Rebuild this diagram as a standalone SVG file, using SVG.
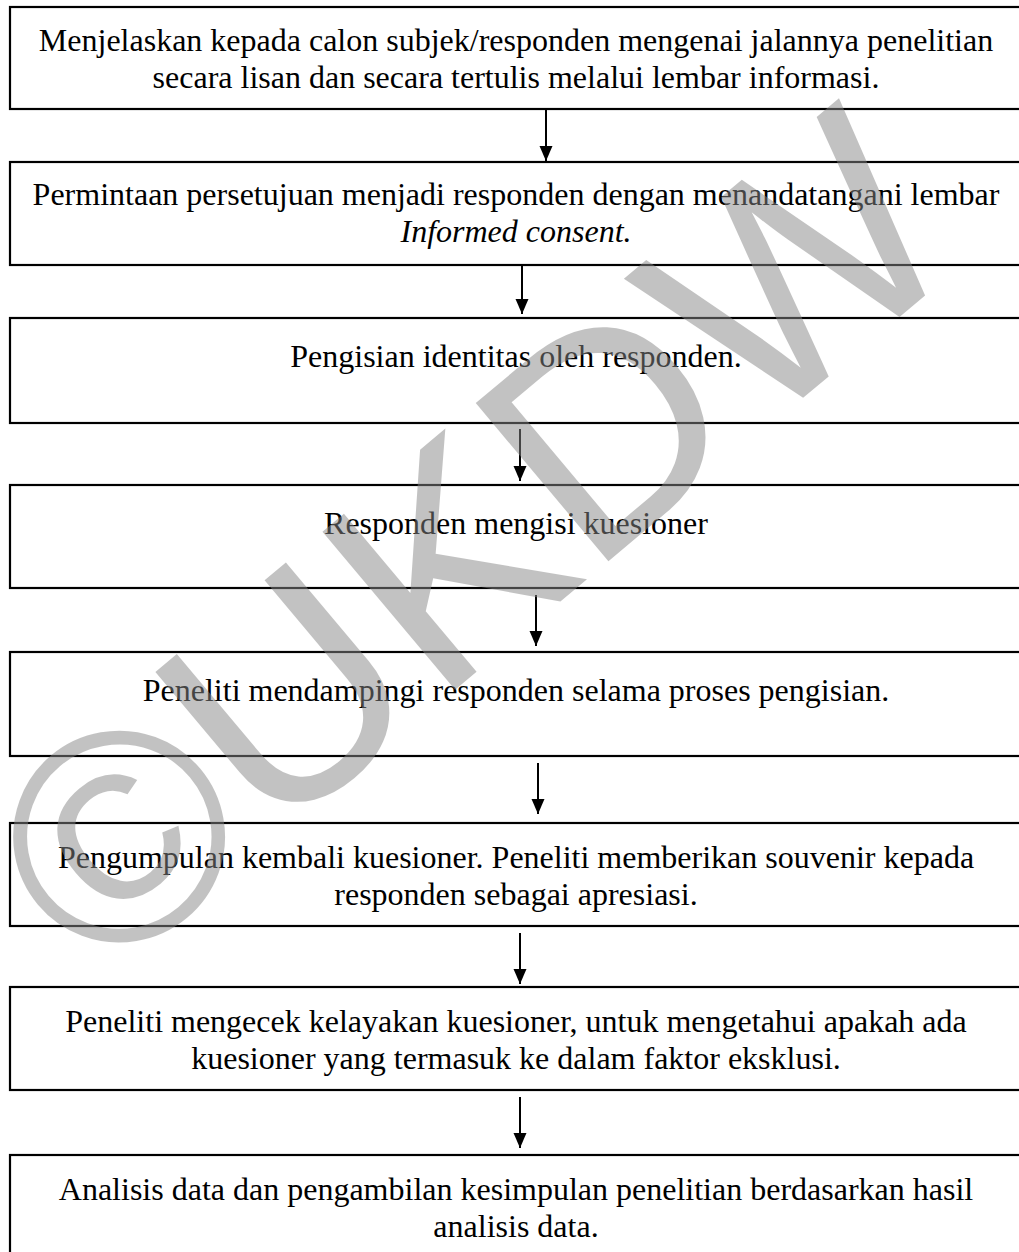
<svg xmlns="http://www.w3.org/2000/svg" width="1019" height="1252" viewBox="0 0 1019 1252">
<style>
.box{fill:#fff;stroke:#000;stroke-width:2.2}
.t{font-family:"Liberation Serif","Times New Roman",serif;font-size:32px;fill:#000;text-anchor:middle}
.it{font-style:italic}
.conn{stroke:#000;stroke-width:2;fill:none;marker-end:url(#ah)}
.wm{font-family:"Liberation Sans",Arial,sans-serif;font-size:300px;fill:#878787;opacity:0.5}
</style>
<defs>
<marker id="ah" markerUnits="userSpaceOnUse" markerWidth="16" markerHeight="14" refX="15" refY="7" orient="auto" overflow="visible">
<path d="M0,0.5 L15,7 L0,13.5 z" fill="#000"/>
</marker>
</defs>
<rect x="0" y="0" width="1019" height="1252" fill="#fff"/>
<g id="n1"><rect class="box" x="10" y="7" width="1030" height="102"/>
<text class="t" x="516" y="51">Menjelaskan kepada calon subjek/responden mengenai jalannya penelitian</text>
<text class="t" x="516" y="88">secara lisan dan secara tertulis melalui lembar informasi.</text></g>
<g id="n2"><rect class="box" x="10" y="162" width="1030" height="103"/>
<text class="t" x="516" y="205">Permintaan persetujuan menjadi responden dengan menandatangani lembar</text>
<text class="t it" x="516" y="242">Informed consent.</text></g>
<g id="n3"><rect class="box" x="10" y="318" width="1030" height="105"/>
<text class="t" x="516" y="367">Pengisian identitas oleh responden.</text></g>
<g id="n4"><rect class="box" x="10" y="485" width="1030" height="103"/>
<text class="t" x="516" y="534">Responden mengisi kuesioner</text></g>
<g id="n5"><rect class="box" x="10" y="652" width="1030" height="104"/>
<text class="t" x="516" y="701">Peneliti mendampingi responden selama proses pengisian.</text></g>
<g id="n6"><rect class="box" x="10" y="823" width="1030" height="103"/>
<text class="t" x="516" y="868">Pengumpulan kembali kuesioner. Peneliti memberikan souvenir kepada</text>
<text class="t" x="516" y="905">responden sebagai apresiasi.</text></g>
<g id="n7"><rect class="box" x="10" y="987" width="1030" height="103"/>
<text class="t" x="516" y="1032">Peneliti mengecek kelayakan kuesioner, untuk mengetahui apakah ada</text>
<text class="t" x="516" y="1069">kuesioner yang termasuk ke dalam faktor eksklusi.</text></g>
<g id="n8"><rect class="box" x="10" y="1155" width="1030" height="120"/>
<text class="t" x="516" y="1200">Analisis data dan pengambilan kesimpulan penelitian berdasarkan hasil</text>
<text class="t" x="516" y="1237">analisis data.</text></g>
<g id="connectors">
<line class="conn" x1="546" y1="110" x2="546" y2="161"/>
<line class="conn" x1="522" y1="266" x2="522" y2="314"/>
<line class="conn" x1="520" y1="429" x2="520" y2="481"/>
<line class="conn" x1="536" y1="595" x2="536" y2="646"/>
<line class="conn" x1="538" y1="763" x2="538" y2="814"/>
<line class="conn" x1="520" y1="933" x2="520" y2="984"/>
<line class="conn" x1="520" y1="1097" x2="520" y2="1148"/>
</g>
<text class="wm" transform="translate(101,987) rotate(-40)">©UKDW</text>
</svg>
